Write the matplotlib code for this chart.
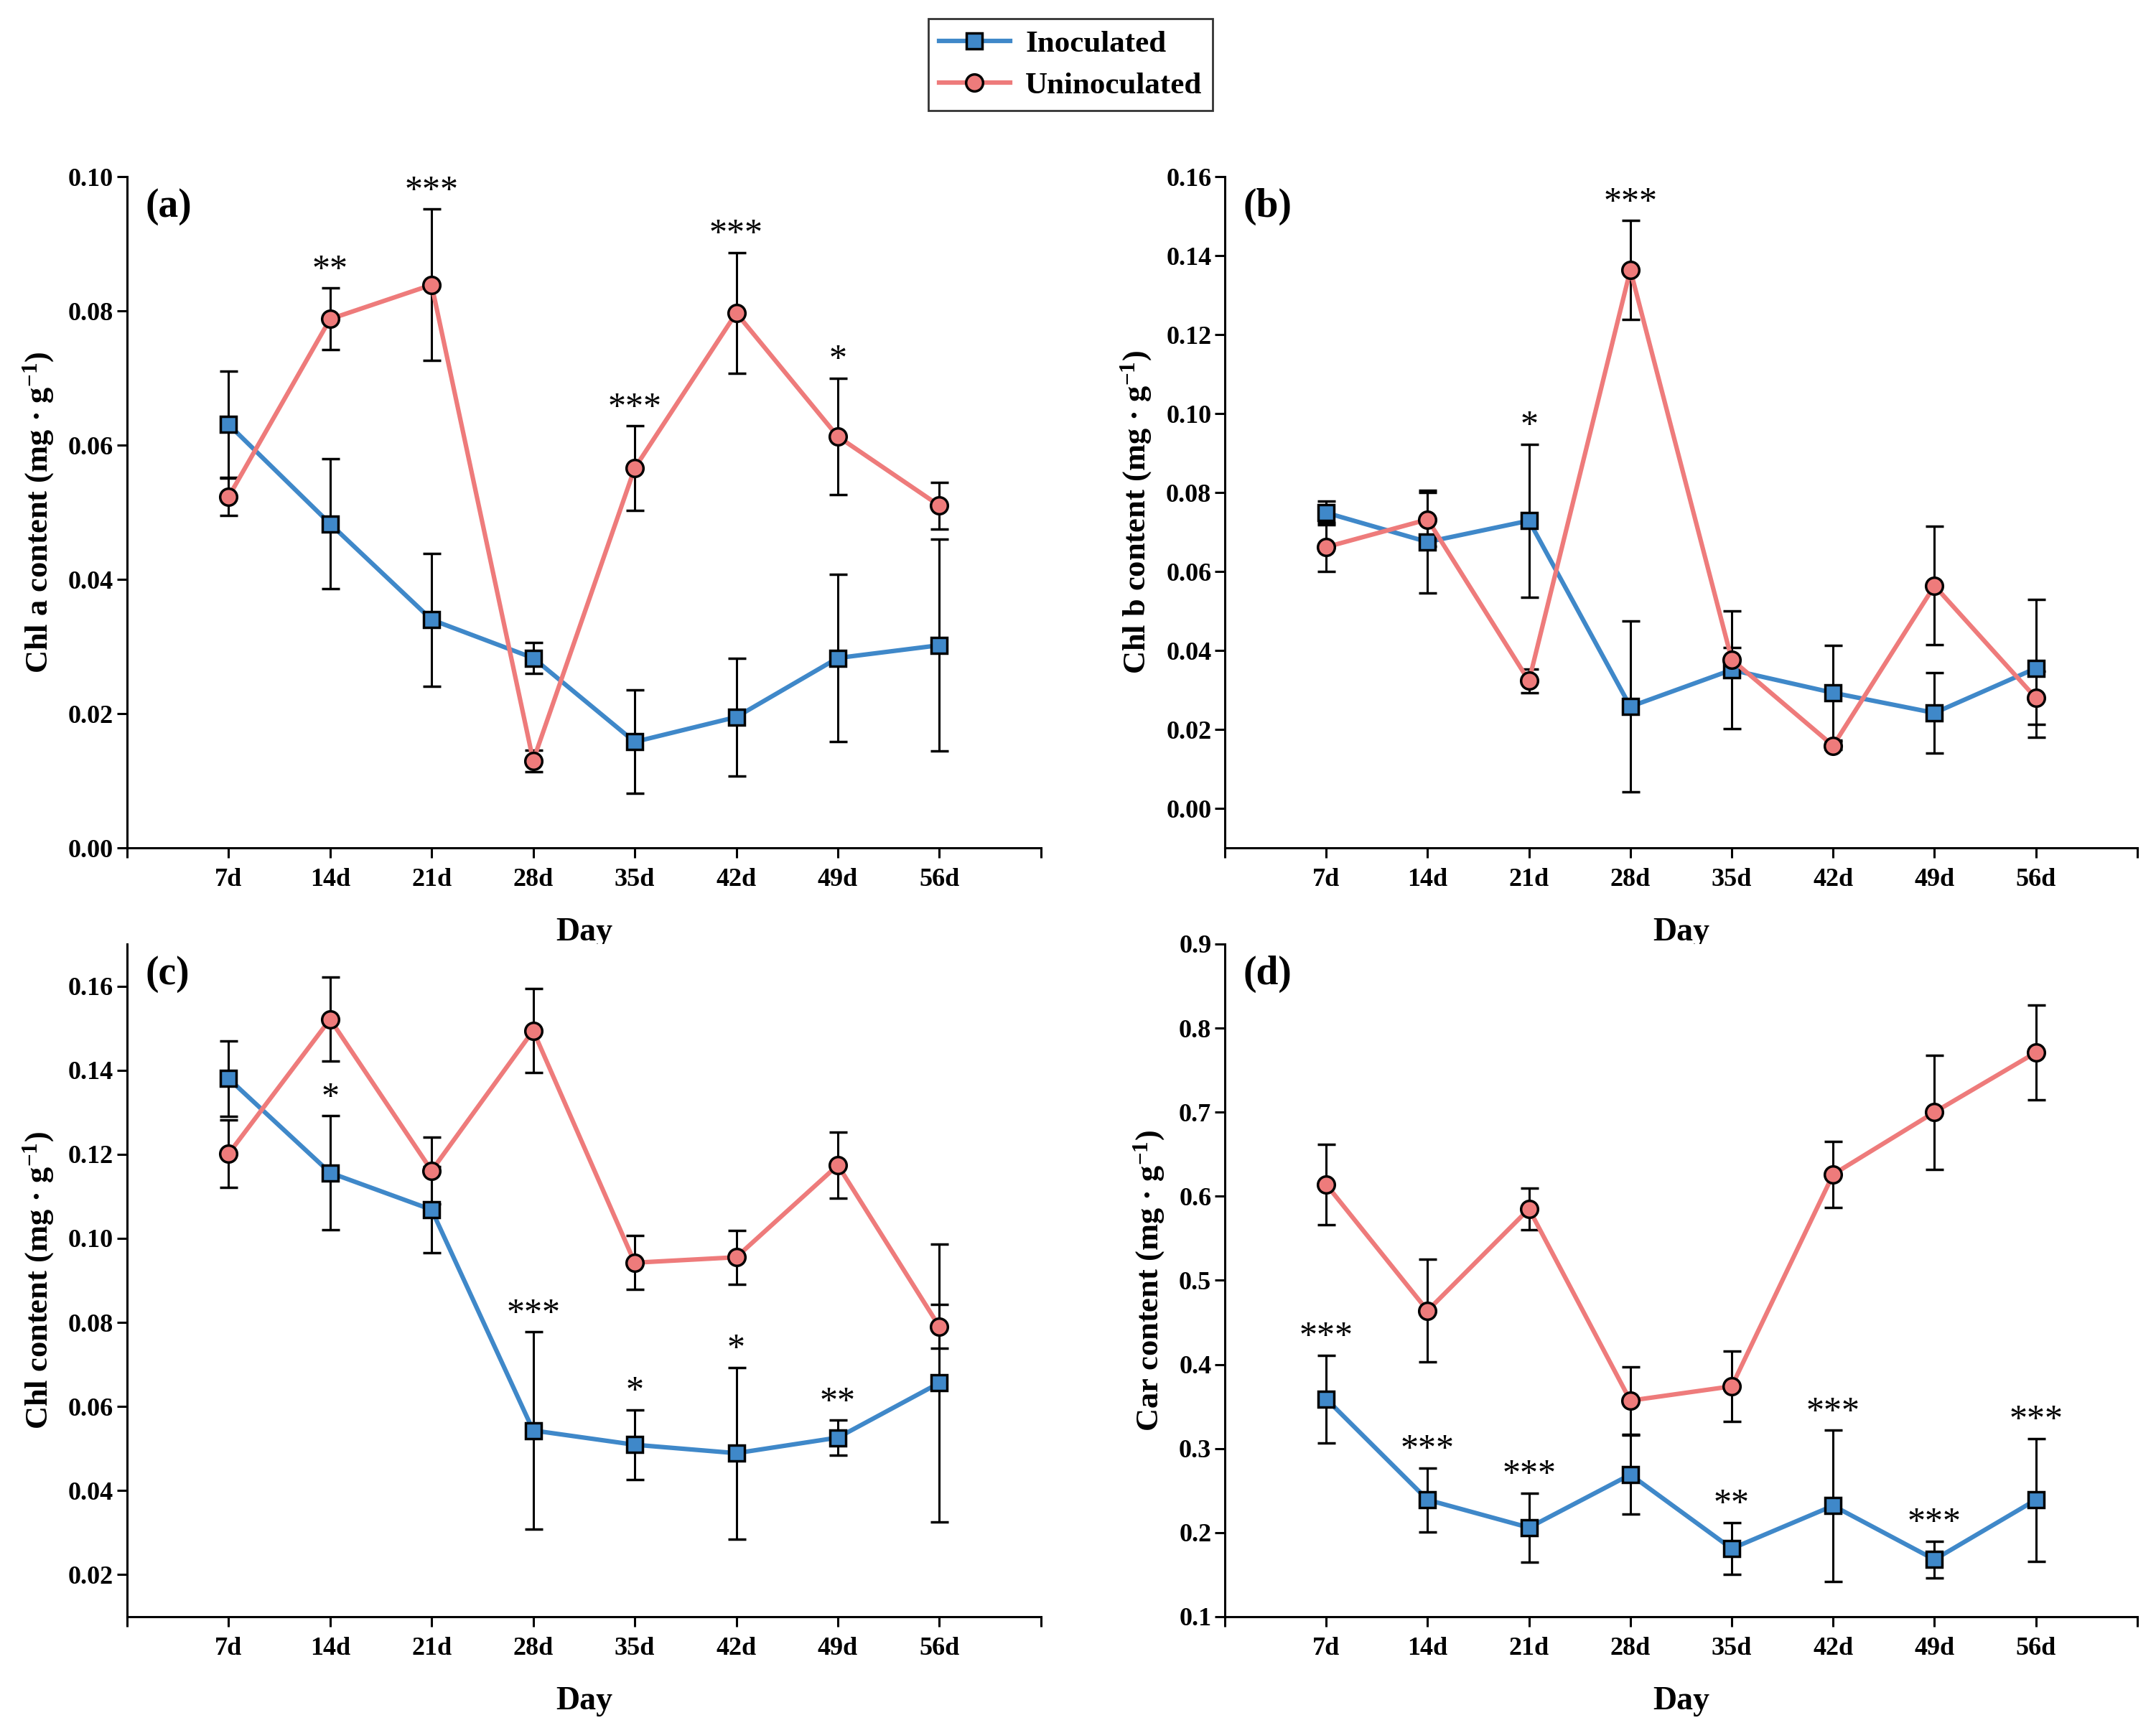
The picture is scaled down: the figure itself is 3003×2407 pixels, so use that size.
import numpy as np
import matplotlib
matplotlib.use("Agg")
import matplotlib.pyplot as plt
from matplotlib.lines import Line2D

# Fonts: bold Times-like serif everywhere
plt.rcParams['font.family'] = ['Liberation Serif', 'DejaVu Serif']
plt.rcParams['font.weight'] = 'bold'
plt.rcParams['axes.labelweight'] = 'bold'
plt.rcParams['mathtext.fontset'] = 'custom'
plt.rcParams['mathtext.rm'] = 'Liberation Serif:bold'
plt.rcParams['mathtext.bf'] = 'Liberation Serif:bold'
plt.rcParams['mathtext.default'] = 'bf'

days = ['7d', '14d', '21d', '28d', '35d', '42d', '49d', '56d']

# (a) Chl a
chla_inoc = [0.0631, 0.0483, 0.0340, 0.0283, 0.0158, 0.0195, 0.0283, 0.0302]
chla_inoc_err = [0.0079, 0.0097, 0.0099, 0.0023, 0.0077, 0.0088, 0.0125, 0.0158]
chla_uninoc = [0.0523, 0.0788, 0.0839, 0.0130, 0.0566, 0.0797, 0.0613, 0.0510]
chla_uninoc_err = [0.0028, 0.0046, 0.0113, 0.0016, 0.0063, 0.0090, 0.0087, 0.0035]
# (index, stars, series the stars sit on: 0 = inoculated, 1 = uninoculated)
chla_stars = [(1, '**', 1), (2, '***', 1), (4, '***', 1), (5, '***', 1), (6, '*', 1)]

# (b) Chl b
chlb_inoc = [0.0749, 0.0675, 0.0729, 0.0258, 0.0351, 0.0293, 0.0242, 0.0355]
chlb_inoc_err = [0.0030, 0.0130, 0.0194, 0.0216, 0.0149, 0.0120, 0.0101, 0.0175]
chlb_uninoc = [0.0662, 0.0732, 0.0323, 0.1364, 0.0377, 0.0159, 0.0564, 0.0280]
chlb_uninoc_err = [0.0062, 0.0068, 0.0030, 0.0125, 0.0030, 0.0010, 0.0150, 0.0067]
chlb_stars = [(2, '*', 0), (3, '***', 1)]

# (c) Chl
chl_inoc = [0.1380, 0.1156, 0.1068, 0.0543, 0.0509, 0.0489, 0.0526, 0.0656]
chl_inoc_err = [0.0090, 0.0135, 0.0102, 0.0235, 0.0083, 0.0204, 0.0042, 0.0331]
chl_uninoc = [0.1201, 0.1521, 0.1161, 0.1494, 0.0942, 0.0955, 0.1174, 0.0790]
chl_uninoc_err = [0.0080, 0.0100, 0.0079, 0.0100, 0.0064, 0.0064, 0.0079, 0.0052]
chl_stars = [(1, '*', 0), (3, '***', 0), (4, '*', 0), (5, '*', 0), (6, '**', 0)]

# (d) Car
car_inoc = [0.359, 0.239, 0.206, 0.269, 0.181, 0.232, 0.168, 0.239]
car_inoc_err = [0.052, 0.038, 0.041, 0.047, 0.031, 0.090, 0.022, 0.073]
car_uninoc = [0.614, 0.464, 0.585, 0.357, 0.374, 0.626, 0.700, 0.771]
car_uninoc_err = [0.048, 0.061, 0.025, 0.040, 0.042, 0.039, 0.068, 0.056]
car_stars = [(0, '***', 0), (1, '***', 0), (2, '***', 0), (4, '**', 0),
             (5, '***', 0), (6, '***', 0), (7, '***', 0)]

blue = '#3F88C9'
pink = '#EE7B7B'

panels = [
    ('(a)', 'Chl a content (mg · g$^{-1}$)', chla_inoc, chla_inoc_err, chla_uninoc, chla_uninoc_err,
     chla_stars, (0, 0.10), np.arange(0, 0.101, 0.02), '{:.2f}'),
    ('(b)', 'Chl b content (mg · g$^{-1}$)', chlb_inoc, chlb_inoc_err, chlb_uninoc, chlb_uninoc_err,
     chlb_stars, (-0.01, 0.16), np.arange(0, 0.161, 0.02), '{:.2f}'),
    ('(c)', 'Chl content (mg · g$^{-1}$)', chl_inoc, chl_inoc_err, chl_uninoc, chl_uninoc_err,
     chl_stars, (0.01, 0.17), np.arange(0.02, 0.161, 0.02), '{:.2f}'),
    ('(d)', 'Car content (mg · g$^{-1}$)', car_inoc, car_inoc_err, car_uninoc, car_uninoc_err,
     car_stars, (0.1, 0.9), np.arange(0.1, 0.91, 0.1), '{:.1f}'),
]

positions = [
    [0.0589, 0.5093, 0.4239, 0.3884],
    [0.5681, 0.5093, 0.4232, 0.3884],
    [0.0589, 0.0644, 0.4239, 0.3893],
    [0.5681, 0.0644, 0.4232, 0.3893],
]

fig = plt.figure(figsize=(30.03, 24.07), dpi=100)
x = np.arange(1, len(days) + 1)

for pos, (tag, ylab, yi, ei, yu, eu, stars, ylim, yticks, fmt) in zip(positions, panels):
    ax = fig.add_axes(pos)
    ax.errorbar(x, yi, yerr=ei, color=blue, lw=4.5, marker='s', ms=16,
                mfc=blue, mec='black', mew=2.5, ecolor='black', elinewidth=2.2,
                capsize=9, capthick=2.2, zorder=3)
    ax.errorbar(x, yu, yerr=eu, color=pink, lw=4.5, marker='o', ms=17,
                mfc=pink, mec='black', mew=2.5, ecolor='black', elinewidth=2.2,
                capsize=9, capthick=2.2, zorder=3)
    series = [(yi, ei), (yu, eu)]
    for idx, txt, s in stars:
        top = series[s][0][idx] + series[s][1][idx]
        ax.annotate(txt, (x[idx], top), xytext=(0, 1), textcoords='offset points',
                    ha='center', va='bottom', fontsize=36, fontweight='normal')
    ax.set_xlim(0, 9)
    ax.set_ylim(*ylim)
    ax.set_xticks(np.arange(0, 10))
    ax.set_xticklabels([''] + days + [''])
    ax.set_yticks(yticks)
    ax.set_yticklabels([fmt.format(v) for v in yticks])
    ax.tick_params(axis='both', direction='out', length=10, width=2.2, labelsize=26)
    ax.tick_params(axis='x', pad=10)
    for sp in ['top', 'right']:
        ax.spines[sp].set_visible(False)
    for sp in ['left', 'bottom']:
        ax.spines[sp].set_linewidth(2.2)
    ax.set_xlabel('Day', fontsize=33, labelpad=26)
    ax.set_ylabel(ylab, fontsize=32, labelpad=12)
    ax.text(0.02, 0.955, tag, transform=ax.transAxes, fontsize=40, ha='left', va='center')

handles = [
    Line2D([], [], color=blue, lw=4.5, marker='s', ms=16, mfc=blue, mec='black', mew=2.5),
    Line2D([], [], color=pink, lw=4.5, marker='o', ms=17, mfc=pink, mec='black', mew=2.5),
]
leg = fig.legend(handles=handles, labels=['Inoculated', 'Uninoculated'],
                 loc='upper center', bbox_to_anchor=(0.4965, 0.989),
                 fontsize=31, frameon=True, fancybox=False, edgecolor='black',
                 handlelength=2.3, borderpad=0.35, labelspacing=0.45, handletextpad=0.5,
                 borderaxespad=0)
leg.get_frame().set_linewidth(2)

fig.savefig('out.png', dpi=100)
